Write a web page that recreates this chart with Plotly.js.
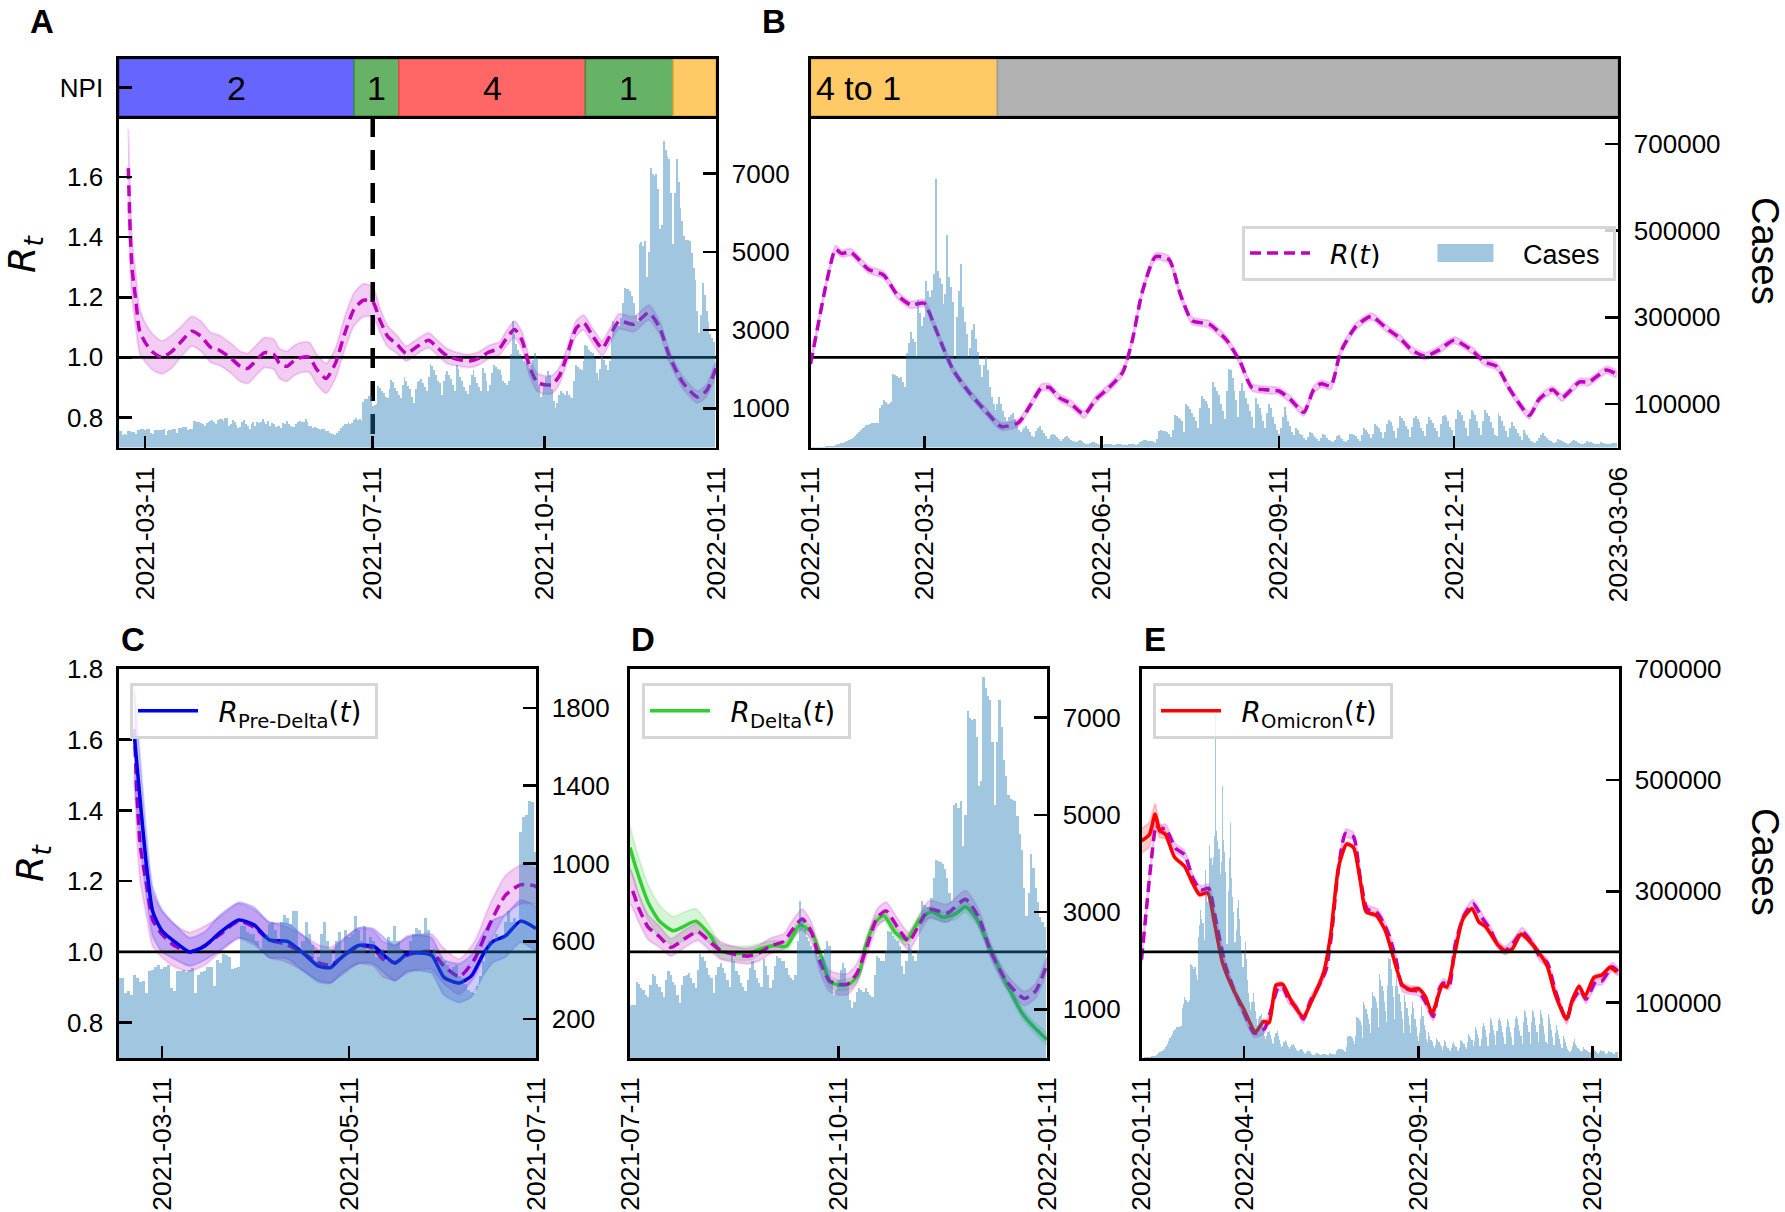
<!DOCTYPE html>
<html><head><meta charset="utf-8">
<script src="https://cdn.plot.ly/plotly-3.0.1.min.js"></script>
<style>html,body{margin:0;padding:0;background:#fff}</style></head>
<body><div id="chart" style="width:1785px;height:1212px"></div>
<script>
// ---------- data ----------
const casesStart2021 = '2021-02-25';
const cases2021 = [
410,410,332,342,322,429,413,390,394,336,448,455,470,478,
458,470,477,361,342,448,445,
452,440,455,465,332,429,440,
445,467,470,371,505,490,535,
530,520,458,462,470,680,
680,650,640,635,600,560,620,
640,690,700,660,600,700,735,
720,690,757,757,560,600,700,
640,580,500,520,640,700,600,
560,480,600,650,540,660,620,
640,728,660,600,680,540,620,
600,520,540,560,500,620,600,
680,600,560,530,520,600,640,
670,660,640,718,660,540,560,
500,520,500,480,440,470,480,
420,410,380,350,340,332,370,
420,500,560,600,590,640,600,
620,700,757,700,720,680,
1163,1240,1250,1320,1318,
1060,1080,1100,1563,1520,1447,1400,1300,1254,1500,
1718,1680,1525,1450,1350,1254,1600,1796,1700,1563,
1500,1300,1138,1500,1680,1700,1757,1650,1550,1447,
1800,2144,2080,1989,1850,1700,1641,1331,1700,1880,
1950,1850,1757,1600,1450,2105,2000,1796,1700,1550,
1450,1370,1600,1850,1989,1800,1641,1550,1450,2028,
1900,1700,1447,1600,1900,2105,2050,2000,1989,1850,
1700,1650,1602,1700,2400,3227,2900,2650,2492,2400,
2300,2221,2150,2100,2028,2100,2250,2415,2300,1600,
1293,1400,1600,1800,1950,1850,1500,1200,1022,1150,
1350,1447,1400,1350,1447,1350,1300,1254,1700,2105,
2050,2000,1989,2200,2608,2600,2500,2450,2415,2300,
1900,1718,2000,2337,2250,2100,1989,2200,2800,3227,
3150,3100,3111,3300,3700,4079,4050,4040,4000,3885,
3700,3400,3227,5201,5250,5150,5278,4350,5000,7136,
7000,6950,6981,6600,5588,5700,7833,7600,7450,7369,
6500,5201,6500,7369,6800,6130,5800,5400,5317,5300,
5278,4969,4600,4272,3500,2918,3400,4195,3900,3498,
3200,2900,2802,2700];
const casesStart2022 = '2022-01-11';
const cases2022 = [
500,600,800,1000,1200,1500,1800,2200,2600,3000,
3500,4000,4500,5500,7000,9000,10000,11000,12000,14000,
17000,19000,22000,26000,30000,36000,40000,44000,48000,51000,
53000,55000,56000,56000,57000,57000,90000,98000,109000,105000,
100000,101000,105000,170000,168000,165000,160000,163000,150000,140000,
218000,240000,266000,250000,243000,212000,339000,310000,281000,300000,
383000,360000,347000,362000,400000,619000,408000,390000,377000,331000,
353000,489000,393000,370000,335000,205000,300000,360000,423000,324000,
290000,262000,209000,230000,270000,285000,250000,220000,190000,163000,
190000,209000,178000,140000,117000,100000,86000,100000,117000,100000,
85000,70000,60000,70000,75000,80000,65000,52000,40000,35000,
40000,46000,49000,42000,35000,27000,25000,38000,45000,49000,
40000,33000,26000,20000,22000,28000,32000,28000,24000,20000,
16000,20000,24000,26000,22000,18000,14000,12000,13000,15000,
17000,14000,11000,9000,8000,10000,12000,13000,10000,8000,
6000,5000,6000,7000,9000,8000,7000,6000,5000,7000,
8000,7000,6000,5000,5000,7000,9000,8000,7000,6000,
8000,12000,15000,17000,17000,16000,15000,14000,12000,11000,
20000,38000,40000,39000,38000,36000,30000,25000,40000,74000,
72000,69000,66000,60000,36000,100000,95000,88000,80000,70000,
62000,45000,90000,118000,112000,108000,100000,90000,55000,151000,
140000,130000,120000,100000,85000,65000,130000,180000,178000,160000,
130000,110000,70000,130000,149000,130000,115000,100000,85000,70000,
45000,114000,100000,90000,75000,60000,45000,80000,100000,90000,
70000,55000,40000,30000,45000,70000,94000,75000,60000,50000,
35000,28000,46000,40000,32000,28000,22000,18000,24000,36000,
33000,28000,24000,20000,14000,22000,32000,28000,22000,18000,
14000,12000,18000,26000,28000,24000,20000,14000,12000,18000,
32000,30000,28000,26000,20000,16000,28000,44000,40000,36000,
32000,22000,30000,55000,50000,44000,36000,22000,35000,55000,
63000,58000,50000,38000,22000,45000,72000,68000,60000,50000,
42000,24000,48000,68000,72000,66000,58000,46000,38000,26000,
55000,70000,64000,56000,46000,38000,24000,55000,72000,76000,
70000,60000,48000,40000,26000,65000,86000,82000,74000,60000,
46000,26000,65000,87000,82000,74000,60000,46000,28000,62000,
87000,80000,72000,58000,44000,28000,26000,80000,72000,62000,
50000,38000,24000,45000,59000,50000,42000,34000,26000,18000,
40000,34000,28000,22000,16000,12000,10000,14000,22000,28000,
34000,26000,22000,18000,14000,12000,10000,12000,19000,17000,
15000,13000,11000,9000,10000,14000,17000,15000,13000,11000,
9000,8000,10000,14000,13000,12000,10000,8000,7000,9000,
12000,11000,10000,9000,7000,8000,11000,10000,10000];

// R(t), 2021: day offset from 2021-03-11, value, half width of the band
const mainBase2021 = '2021-03-11';
const mainDays2021 = [-9,-8,-7,-5,-3,0,4,9,14,19,25,30,35,40,46,51,55,58,64,69,72,76,80,84,88,92,97,102,107,112,117,122,126,130,135,140,146,152,157,162,168,174,179,184,190,193,198,202,206,210,214,218,222,226,231,235,240,245,249,254,262,270,276,281,288,296,301,306];
const mainR2021 = [1.63,1.42,1.295,1.19,1.09,1.05,1.018,1.0,1.018,1.05,1.087,1.07,1.034,1.023,.997,.97,.963,.98,1.016,1.01,.98,.97,.99,1.0,1.0,.96,.93,.98,1.08,1.16,1.19,1.185,1.122,1.07,1.043,1.013,1.037,1.057,1.03,1.004,.993,.988,.997,1.017,1.03,1.057,1.093,1.057,.97,.918,.909,.909,.938,1.004,1.096,1.116,1.07,1.03,1.07,1.12,1.11,1.149,1.096,1.004,.918,.868,.89,.965];
const mainBand2021 = [.13,.12,.1,.09,.075,.065,.06,.055,.055,.05,.05,.05,.05,.05,.05,.05,.05,.05,.05,.05,.05,.05,.05,.05,.05,.05,.05,.05,.055,.055,.055,.05,.04,.035,.03,.025,.025,.025,.025,.025,.022,.022,.022,.022,.022,.025,.028,.028,.03,.03,.03,.03,.028,.025,.025,.025,.025,.025,.025,.025,.025,.025,.022,.02,.02,.02,.02,.02];

const preDays = [-9,-7,-5,-3,0,4,9,14,19,25,30,35,41,46,51,55,58,64,69,73,76,80,84,88,92,97,101,105,108,112,117,122];
const preR = [1.61,1.42,1.24,1.114,1.06,1.03,1.0,1.017,1.055,1.09,1.077,1.034,1.03,.997,.96,.956,.98,1.018,1.016,.986,.968,.995,.997,.99,.928,.912,.933,.997,1.03,1.045,1.087,1.066];
const preBand = [.13,.12,.09,.07,.06,.05,.04,.04,.05,.05,.05,.05,.05,.05,.045,.045,.045,.05,.05,.05,.05,.05,.05,.05,.05,.055,.06,.06,.06,.06,.06,.06];

const deltaBase = '2021-07-11';
const deltaDays = [0,3,8,13,19,24,29,35,40,45,53,58,64,69,75,80,85,88,92,97,101,104,108,112,117,122,128,133,138,144,148,153,159,166,173,178,184];
const deltaR = [1.295,1.23,1.14,1.087,1.06,1.073,1.087,1.05,1.002,.997,.997,1.01,1.018,1.016,1.077,1.055,.975,.917,.906,.91,.938,1.018,1.082,1.103,1.055,1.034,1.093,1.114,1.098,1.109,1.128,1.093,1.007,.912,.827,.789,.752];
const deltaBand = [.06,.055,.05,.045,.04,.04,.035,.025,.02,.02,.02,.015,.015,.015,.015,.015,.015,.015,.015,.015,.015,.015,.015,.015,.015,.015,.015,.015,.015,.015,.015,.015,.015,.015,.015,.015,.015];

const base2022 = '2022-01-11';
const mainDays2022 = [0,4,8,13,16,21,25,30,38,45,52,59,64,69,74,82,91,99,108,114,120,124,129,135,142,148,155,162,167,172,179,186,192,198,207,216,223,229,236,243,249,256,261,265,270,275,283,291,299,306,312,319,326,334,343,350,356,363,373,378,385,390,399,404,413,418];
const mainR2022 = [.978,1.11,1.24,1.36,1.346,1.35,1.326,1.293,1.274,1.208,1.175,1.18,1.11,1.03,.958,.886,.82,.77,.783,.84,.9,.9,.866,.846,.81,.86,.9,.95,1.057,1.214,1.335,1.326,1.208,1.122,1.11,1.057,.984,.9,.892,.888,.86,.817,.892,.912,.905,1.017,1.103,1.136,1.096,1.063,1.024,1.004,1.024,1.057,1.024,.984,.97,.892,.807,.86,.892,.866,.918,.918,.958,.945];
const mainBand2022 = 0.012;

const omicronDays = [0,7,12,16,21,29,38,44,51,58,64,71,81,90,100,107,112,118,124,131,142,149,160,166,173,180,186,192,197,206,214,219,229,236,243,249,255,264,268,275,282,290,296,302,312,319,325,333,341,349,356,363,373,378,384,389,397,404,411,417];
const omicronR = [1.314,1.332,1.39,1.343,1.332,1.268,1.241,1.2,1.162,1.167,1.082,.97,.89,.837,.773,.803,.8,.906,.908,.864,.816,.859,.944,1.05,1.241,1.305,1.295,1.2,1.114,1.103,1.06,1.007,.906,.893,.896,.874,.827,.906,.901,.997,1.093,1.122,1.085,1.071,1.023,1.002,1.007,1.05,1.029,.997,.96,.88,.81,.864,.903,.874,.928,.935,.956,.944];
const omicronBandStart = [.035,.035,.03,.02,.012];
const omicronBandRest = 0.006;

const npiEdges2021 = ['2021-02-25','2021-07-01','2021-07-25','2021-11-02','2021-12-19','2022-01-11'];
const npiLabels2021 = ['2','1','4','1',''];
const npiColors2021 = ['#6666ff','#66b266','#ff6666','#66b266','#ffc966'];
const npiEdgeColors2021 = ['#4a4ae0','#3f8f3f','#e04a4a','#3f8f3f','#e8a93a'];
const npiEdges2022 = ['2022-01-11','2022-04-18','2023-03-06'];
const npiColors2022 = ['#ffc966','#b2b2b2'];
const npiEdgeColors2022 = ['#d9a040','#9a9a9a'];
const npiLabel2022 = '4 to 1';
const npiLabelDate2022 = '2022-02-05';
const vocDate = '2021-07-11';

const ticksA = ['2021-03-11','2021-07-11','2021-10-11','2022-01-11'];
const ticksB = ['2022-01-11','2022-03-11','2022-06-11','2022-09-11','2022-12-11','2023-03-06'];
const ticksC = ['2021-03-11','2021-05-11','2021-07-11'];
const ticksD = ['2021-07-11','2021-10-11','2022-01-11'];
const ticksE = ['2022-01-11','2022-04-11','2022-09-11','2023-02-11'];
const rTicks = [0.8,1.0,1.2,1.4,1.6];
const rTicksC = [0.8,1.0,1.2,1.4,1.6,1.8];
const caseTicksLow = [1000,3000,5000,7000];
const caseTicksC = [200,600,1000,1400,1800];
const caseTicksB = [100000,300000,500000,700000];

// ---------- helpers ----------
const W = 1785, H = 1212, DAY = 86400000;
const FONT = 'Liberation Sans, Arial, sans-serif', MATH = 'DejaVu Sans';
const NB = '\u00a0';
const toMs = s => Date.parse(s + 'T00:00:00Z');
const iso = ms => new Date(ms).toISOString().slice(0,10);
const shift = (base, days) => days.map(d => iso(toMs(base) + d*DAY));
const seq = (base, n) => Array.from({length:n}, (_,i) => iso(toMs(base) + i*DAY));
const xd = (a,b) => [a/W, b/W];
const yd = (top,bot) => [1-bot/H, 1-top/H];

const dates2021 = shift(mainBase2021, mainDays2021);
const dates2022 = shift(base2022, mainDays2022);
const band = (x,y,hw) => {
  const w = i => Array.isArray(hw) ? hw[i] : hw;
  return { x: x.concat(x.slice().reverse()),
           y: y.map((v,i)=>v+w(i)).concat(y.map((v,i)=>v-w(i)).reverse()) };
};
const bandTrace = (x,y,hw,rgb,ax,ay) => { const b = band(x,y,hw); return {
  x:b.x,y:b.y,xaxis:ax,yaxis:ay,type:'scatter',mode:'lines',fill:'toself',
  fillcolor:`rgba(${rgb},0.2)`,line:{color:`rgba(${rgb},0.16)`,width:2,shape:'spline',smoothing:0.6},
  showlegend:false,hoverinfo:'skip'}; };
const lineTrace = (x,y,color,dash,ax,ay,extra) => Object.assign({
  x,y,xaxis:ax,yaxis:ay,type:'scatter',mode:'lines',
  line:{color,width:3.5,dash,shape:'spline',smoothing:0.6},showlegend:false,hoverinfo:'skip'},extra||{});
const oneLine = (r,ax,ay) => ({x:r,y:[1,1],xaxis:ax,yaxis:ay,type:'scatter',mode:'lines',
  line:{color:'#000',width:2.8},showlegend:false,hoverinfo:'skip'});
const casesTrace = (start,vals,ax,ay,extra) => Object.assign({
  x:seq(start,vals.length),y:vals,xaxis:ax,yaxis:ay,type:'bar',width:DAY,
  marker:{color:'rgba(31,119,180,0.42)',line:{width:0}},showlegend:false,hoverinfo:'skip'},extra||{});
const DASH = '11px,6px', MAGENTA = '#bf00bf';
const R = {A:['2021-02-25','2022-01-11'],B:['2022-01-11','2023-03-06'],C:['2021-02-25','2021-07-11'],
           D:['2021-07-11','2022-01-11'],E:['2022-01-11','2023-03-06']};
const omicronBand = omicronR.map((_,i)=> i<omicronBandStart.length ? omicronBandStart[i] : omicronBandRest);
const omicronDates = shift(base2022, omicronDays);
const preDates = shift(mainBase2021, preDays);
const deltaDates = shift(deltaBase, deltaDays);
const mathName = (inner) => `${NB}${NB}<span style="font-family:DejaVu Sans">${inner}</span>${NB}`;

const span = (edges,i) => toMs(edges[i+1]) - toMs(edges[i]);
const traces = [
  // A
  bandTrace(dates2021,mainR2021,mainBand2021,'191,0,191','x','y'),
  {x:[vocDate,vocDate],y:[1.8,0.7],xaxis:'x',yaxis:'y',type:'scatter',mode:'lines',line:{color:'#000',width:4.5,dash:'20px,13px'},showlegend:false,hoverinfo:'skip'},
  oneLine(R.A,'x','y'),
  lineTrace(dates2021,mainR2021,MAGENTA,DASH,'x','y'),
  casesTrace(casesStart2021,cases2021,'x','y2'),
  // B
  bandTrace(dates2022,mainR2022,mainBand2022,'191,0,191','x2','y3'),
  oneLine(R.B,'x2','y3'),
  lineTrace(dates2022,mainR2022,MAGENTA,DASH,'x2','y3',{showlegend:true,legend:'legend',name:mathName('<i>R</i>(<i>t</i>)')+NB+NB+NB+NB+NB}),
  casesTrace(casesStart2022,cases2022,'x2','y4',{showlegend:true,legend:'legend',name:NB+NB+NB+'Cases'+NB}),
  // C
  bandTrace(dates2021,mainR2021,mainBand2021,'191,0,191','x3','y5'),
  lineTrace(dates2021,mainR2021,MAGENTA,DASH,'x3','y5'),
  bandTrace(preDates,preR,preBand,'0,0,255','x3','y5'),
  oneLine(R.C,'x3','y5'),
  lineTrace(preDates,preR,'#0000e6','solid','x3','y5',{showlegend:true,legend:'legend2',name:mathName('<i>R</i><sub>Pre-Delta</sub>(<i>t</i>)')}),
  casesTrace(casesStart2021,cases2021,'x3','y6'),
  // D
  bandTrace(deltaDates,deltaR,deltaBand,'50,205,50','x4','y7'),
  bandTrace(dates2021,mainR2021,mainBand2021,'191,0,191','x4','y7'),
  lineTrace(deltaDates,deltaR,'#32cd32','solid','x4','y7',{showlegend:true,legend:'legend3',name:mathName('<i>R</i><sub>Delta</sub>(<i>t</i>)')}),
  lineTrace(dates2021,mainR2021,MAGENTA,DASH,'x4','y7'),
  oneLine(R.D,'x4','y7'),
  casesTrace(casesStart2021,cases2021,'x4','y8'),
  // E
  bandTrace(dates2022,mainR2022,mainBand2022,'191,0,191','x5','y9'),
  lineTrace(dates2022,mainR2022,MAGENTA,DASH,'x5','y9'),
  bandTrace(omicronDates,omicronR,omicronBand,'255,0,0','x5','y9'),
  lineTrace(omicronDates,omicronR,'#ff0000','solid','x5','y9',{showlegend:true,legend:'legend4',name:mathName('<i>R</i><sub>Omicron</sub>(<i>t</i>)')}),
  oneLine(R.E,'x5','y9'),
  casesTrace(casesStart2022,cases2022,'x5','y10'),
  // NPI strips
  {type:'bar',orientation:'h',xaxis:'x6',yaxis:'y11',y:npiColors2021.map(()=>0),width:1,
   base:npiEdges2021.slice(0,-1),x:npiColors2021.map((_,i)=>span(npiEdges2021,i)),
   marker:{color:npiColors2021,line:{color:npiEdgeColors2021,width:1.5}},showlegend:false,hoverinfo:'skip'},
  {type:'bar',orientation:'h',xaxis:'x7',yaxis:'y12',y:npiColors2022.map(()=>0),width:1,
   base:npiEdges2022.slice(0,-1),x:npiColors2022.map((_,i)=>span(npiEdges2022,i)),
   marker:{color:npiColors2022,line:{color:npiEdgeColors2022,width:1.5}},showlegend:false,hoverinfo:'skip'}
];

// ---------- layout ----------
const FS = 26, LW = 2.6;
const tickfont = {family:FONT,size:FS,color:'#000'};
const xAx = (dom,range,ticks,anchor) => ({domain:dom,range,type:'date',anchor,tickmode:'array',tickvals:ticks,ticktext:ticks,
  tickangle:-90,ticks:'inside',ticklen:12,tickwidth:LW,tickcolor:'#000',ticklabelstandoff:6,tickfont:{family:FONT,size:26.5,color:'#000'},showgrid:false,zeroline:false,
  showline:true,linecolor:'#000',linewidth:LW,mirror:true,fixedrange:true});
const yL = (dom,vals,anchor,show) => ({domain:dom,range:[0.7,1.8],anchor,tickmode:'array',tickvals:vals,ticktext:vals.map(v=>v.toFixed(1)),
  ticks:show?'inside':'',ticklen:13,tickwidth:LW,tickcolor:'#000',showticklabels:show,ticklabelstandoff:8,tickfont,showgrid:false,zeroline:false,
  showline:true,linecolor:'#000',linewidth:LW,mirror:true,fixedrange:true});
const yR = (over,anchor,max,vals) => ({overlaying:over,anchor,side:'right',range:[0,max],tickmode:'array',tickvals:vals,ticktext:vals.map(String),
  ticks:'inside',ticklen:13,tickwidth:LW,tickcolor:'#000',ticklabelstandoff:8,tickfont,showgrid:false,zeroline:false,
  showline:true,linecolor:'#000',linewidth:LW,fixedrange:true});
const npiX = (dom,range,anchor) => ({domain:dom,range,type:'date',anchor,showticklabels:false,ticks:'',showgrid:false,zeroline:false,
  showline:true,linecolor:'#000',linewidth:LW,mirror:true,fixedrange:true});
const npiY = (dom,anchor,show) => ({domain:dom,range:[-0.5,0.5],anchor,tickmode:'array',tickvals:show?[0]:[],ticktext:show?['NPI']:[],
  ticks:show?'inside':'',showticklabels:show,ticklen:13,tickwidth:LW,tickcolor:'#000',ticklabelstandoff:8,tickfont,showgrid:false,zeroline:false,
  showline:true,linecolor:'#000',linewidth:LW,mirror:true,fixedrange:true});
const legendBase = {bgcolor:'rgba(255,255,255,0.8)',bordercolor:'#d6d6d6',borderwidth:3,xanchor:'left',yanchor:'top',
  font:{family:FONT,size:28,color:'#000'},itemwidth:60,itemclick:false,itemdoubleclick:false};

const bold = {family:FONT,size:33,color:'#000',weight:'bold'};
const paperText = (text,px,py,font,extra) => Object.assign({text,xref:'paper',yref:'paper',x:px/W,y:1-py/H,showarrow:false,
  xanchor:'center',yanchor:'middle',font},extra||{});
const midDate = (edges,i) => iso((toMs(edges[i])+toMs(edges[i+1]))/2);
const npiAnn = npiLabels2021.map((t,i)=>t?({text:t,xref:'x6',yref:'y11',x:midDate(npiEdges2021,i),y:0,showarrow:false,
  font:{family:FONT,size:34,color:'#000'}}):null).filter(Boolean);

const rtTitle = '<i>R<sub>t</sub></i>';
const rtFont = {family:MATH,size:38,color:'#000'}, casesFont = {family:FONT,size:38,color:'#000'};
const layout = {
  width:W,height:H,autosize:false,margin:{l:0,r:0,t:0,b:0},paper_bgcolor:'#fff',plot_bgcolor:'#fff',
  bargap:0,barmode:'overlay',hovermode:false,dragmode:false,font:{family:FONT,color:'#000'},
  xaxis:xAx(xd(119,716),R.A,ticksA,'y'),
  yaxis:yL(yd(117,447.5),rTicks,'x',true),
  yaxis2:yR('y','x',8450,caseTicksLow),
  xaxis2:xAx(xd(810.5,1618),R.B,ticksB,'y3'),
  yaxis3:yL(yd(117,447.5),rTicks,'x2',false),
  yaxis4:yR('y3','x2',762000,caseTicksB),
  xaxis3:xAx(xd(119,536),R.C,ticksC,'y5'),
  yaxis5:yL(yd(669,1058),rTicksC,'x3',true),
  yaxis6:yR('y5','x3',2000,caseTicksC),
  xaxis4:xAx(xd(630,1047),R.D,ticksD,'y7'),
  yaxis7:yL(yd(669,1058),rTicksC,'x4',false),
  yaxis8:yR('y7','x4',8000,caseTicksLow),
  xaxis5:xAx(xd(1141.5,1619),R.E,ticksE,'y9'),
  yaxis9:yL(yd(669,1058),rTicksC,'x5',false),
  yaxis10:yR('y9','x5',700000,caseTicksB),
  xaxis6:npiX(xd(119,716),R.A,'y11'),
  yaxis11:npiY(yd(59,116),'x6',true),
  xaxis7:npiX(xd(810.5,1618),R.B,'y12'),
  yaxis12:npiY(yd(59,116),'x7',false),
  legend:Object.assign({},legendBase,{x:1242/W,y:1-226/H,orientation:'h',font:{family:FONT,size:27,color:'#000'}}),
  legend2:Object.assign({},legendBase,{x:130/W,y:1-683/H}),
  legend3:Object.assign({},legendBase,{x:642/W,y:1-683/H}),
  legend4:Object.assign({},legendBase,{x:1153/W,y:1-683/H}),
  annotations:[
    paperText('A',42,21,bold),
    paperText('B',774,21,bold),
    paperText('C',133,640,bold),
    paperText('D',643,640,bold),
    paperText('E',1155,640,bold),
    paperText(rtTitle,24,254,rtFont,{textangle:-90}),
    paperText(rtTitle,32,863,rtFont,{textangle:-90}),
    paperText('Cases',1765,251,casesFont,{textangle:90}),
    paperText('Cases',1765,862,casesFont,{textangle:90}),
    {text:npiLabel2022,xref:'x7',yref:'y12',x:npiLabelDate2022,y:0,showarrow:false,font:{family:FONT,size:34,color:'#000'}},
    ...npiAnn
  ]
};
Plotly.newPlot('chart',traces,layout,{displayModeBar:false,staticPlot:true}).then(gd=>{
  // widen the legend swatch of the bars, as in the reference
  gd.querySelectorAll('.legend .legendbar path, .legend .legendpoints path').forEach(p=>{
    if((p.getAttribute('d')||'').indexOf('M6,6')===0) p.setAttribute('d','M28,9H-28V-9H28Z');
  });
});
</script></body></html>
